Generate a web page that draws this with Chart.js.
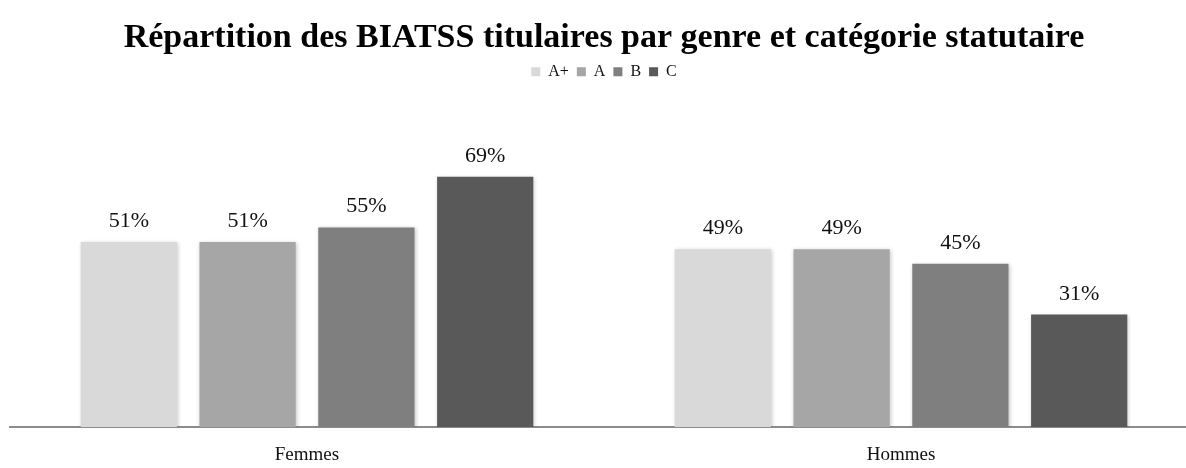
<!DOCTYPE html>
<html>
<head>
<meta charset="utf-8">
<script src="https://cdn.jsdelivr.net/npm/chart.js@4.4.1/dist/chart.umd.min.js"></script>
<style>
  html, body { margin: 0; padding: 0; background: #ffffff; overflow: hidden; }
  #wrap { position: relative; width: 1186px; height: 468px; overflow: hidden; }
  #box { position: absolute; left: 0; top: 0; width: 1200px; height: 468px; }
</style>
</head>
<body>
<div id="wrap"><div id="box"><canvas id="c"></canvas></div></div>
<script>
const titleText = 'Répartition des BIATSS titulaires par genre et catégorie statutaire';
const categories = ['Femmes', 'Hommes'];
const seriesNames = ['A+', 'A', 'B', 'C'];
const seriesAplus = [51, 49];
const seriesA = [51, 49];
const seriesB = [55, 45];
const seriesC = [69, 31];
const seriesColors = ['#d9d9d9', '#a6a6a6', '#7f7f7f', '#595959'];

const serif = "'Liberation Serif', 'DejaVu Serif', serif";

const barShadow = {
  id: 'barShadow',
  beforeDatasetsDraw(chart) {
    const ctx = chart.ctx;
    ctx.save();
    ctx.shadowColor = 'rgba(0,0,0,0.22)';
    ctx.shadowBlur = 4;
    ctx.shadowOffsetX = 1;
    ctx.shadowOffsetY = 1;
  },
  afterDatasetsDraw(chart) {
    chart.ctx.restore();
  }
};

const valueLabels = {
  id: 'valueLabels',
  afterDatasetsDraw(chart) {
    const ctx = chart.ctx;
    ctx.save();
    ctx.shadowColor = 'rgba(0,0,0,0)';
    ctx.shadowBlur = 0;
    ctx.font = '22px ' + serif;
    ctx.fillStyle = '#111';
    ctx.textAlign = 'center';
    ctx.textBaseline = 'alphabetic';
    chart.data.datasets.forEach((ds, i) => {
      const meta = chart.getDatasetMeta(i);
      meta.data.forEach((bar, j) => {
        ctx.fillText(ds.data[j] + '%', bar.x, bar.y - 15);
      });
    });
    ctx.restore();
  }
};

const legendSpacing = {
  id: 'legendSpacing',
  beforeInit(chart) {
    const orig = chart.legend.fit;
    chart.legend.fit = function () {
      orig.bind(chart.legend)();
      this.height += 47;
    };
  }
};

const seriesData = [seriesAplus, seriesA, seriesB, seriesC];

new Chart(document.getElementById('c'), {
  type: 'bar',
  data: {
    labels: categories,
    datasets: seriesNames.map((n, i) => ({
      label: n,
      data: seriesData[i],
      backgroundColor: seriesColors[i],
      borderWidth: 0,
      barPercentage: 0.81,
      categoryPercentage: 0.8
    }))
  },
  options: {
    responsive: true,
    maintainAspectRatio: false,
    animation: false,
    layout: { padding: { left: 10, right: 2, top: 0, bottom: 0 } },
    plugins: {
      title: {
        display: true,
        text: titleText,
        color: '#000',
        font: { family: serif, size: 34, weight: 'bold' },
        padding: { top: 18, bottom: -3 }
      },
      legend: {
        display: true,
        position: 'top',
        labels: {
          color: '#111',
          font: { family: serif, size: 16 },
          boxWidth: 9,
          boxHeight: 9,
          padding: 8
        }
      },
      tooltip: { enabled: false }
    },
    scales: {
      x: {
        grid: { display: false, drawTicks: false },
        border: { display: true, color: '#8c8c8c', width: 2 },
        ticks: { color: '#111', font: { family: serif, size: 19 }, padding: 17 },
        afterFit(axis) { axis.height = 41; }
      },
      y: {
        display: false,
        min: 0,
        max: 80
      }
    }
  },
  plugins: [barShadow, valueLabels, legendSpacing]
});
</script>
</body>
</html>
